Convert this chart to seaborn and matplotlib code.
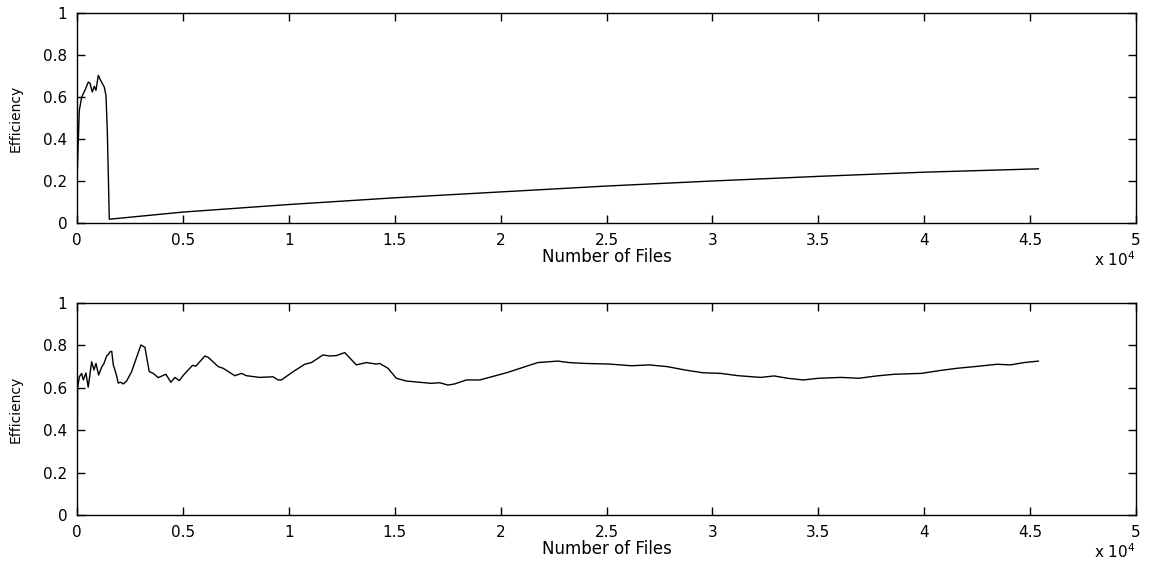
import numpy as np
import pandas as pd
import matplotlib
matplotlib.use("Agg")
import matplotlib.pyplot as plt
import seaborn as sns
from matplotlib.ticker import FuncFormatter

# top panel: efficiency vs number of files (first run)
files_top = [0, 108, 222, 377, 533, 613, 723, 817, 896, 1006, 1116, 1289, 1368, 1431, 1525,
             5000, 10000, 15000, 20000, 25000, 30000, 35000, 40000, 45400]
eff_top = [0.20, 0.536, 0.60, 0.632, 0.671, 0.666, 0.624, 0.651, 0.632, 0.703, 0.679, 0.647,
           0.608, 0.44, 0.018, 0.052, 0.088, 0.12, 0.148, 0.176, 0.20, 0.222, 0.242, 0.258]

# bottom panel: efficiency vs number of files (second run)
files_bot = [0, 30, 110, 220, 300, 420, 530, 692, 802, 896, 1022, 1163, 1274, 1399, 1494, 1557,
             1640, 1714, 1840, 1950, 2030, 2106, 2185, 2342, 2578, 3018, 3207, 3411, 3600, 3836,
             4197, 4433, 4622, 4826, 5046, 5455, 5612, 6036, 6193, 6665, 6900, 7451, 7766, 8001,
             8630, 9259, 9495, 9652, 10202, 10753, 11067, 11617, 11931, 12246, 12639, 13189,
             13661, 14133, 14290, 14683, 15075, 15547, 16176, 16726, 17123, 17512, 17827, 18386,
             19018, 20281, 21755, 22703, 23229, 23966, 25124, 26177, 27019, 27861, 28704, 29546,
             30388, 31230, 32283, 32915, 33547, 34284, 35021, 36073, 36916, 37758, 38600, 39864,
             40706, 41548, 42391, 43444, 44075, 44707, 45400]
eff_bot = [0.17, 0.60, 0.652, 0.668, 0.637, 0.67, 0.603, 0.723, 0.684, 0.715, 0.660, 0.697,
           0.715, 0.750, 0.759, 0.770, 0.772, 0.708, 0.668, 0.622, 0.626, 0.624, 0.618, 0.632,
           0.676, 0.802, 0.791, 0.676, 0.668, 0.648, 0.664, 0.626, 0.649, 0.634, 0.662, 0.706,
           0.702, 0.750, 0.744, 0.700, 0.692, 0.657, 0.668, 0.657, 0.649, 0.652, 0.637, 0.637,
           0.676, 0.711, 0.719, 0.755, 0.750, 0.752, 0.766, 0.708, 0.719, 0.712, 0.715, 0.692,
           0.645, 0.632, 0.626, 0.621, 0.624, 0.613, 0.618, 0.637, 0.637, 0.671, 0.719, 0.726,
           0.719, 0.715, 0.712, 0.704, 0.708, 0.700, 0.684, 0.671, 0.668, 0.657, 0.649, 0.656,
           0.645, 0.637, 0.645, 0.649, 0.645, 0.656, 0.664, 0.668, 0.681, 0.692, 0.700, 0.711,
           0.708, 0.719, 0.726]

xticks = np.arange(0, 50001, 5000)
yticks = [0, 0.2, 0.4, 0.6, 0.8, 1]

sns.set_style("ticks")
plt.rcParams["font.family"] = ["DejaVu Sans"]
plt.rcParams["text.color"] = "black"
plt.rcParams["axes.labelcolor"] = "black"

fig = plt.figure(figsize=(11.51, 5.61), dpi=100)
ax1 = fig.add_axes([77 / 1151, 1 - 223 / 561, 1059 / 1151, 210 / 561])
ax2 = fig.add_axes([77 / 1151, 1 - 515 / 561, 1059 / 1151, 212 / 561])

panels = [(ax1, files_top, eff_top), (ax2, files_bot, eff_bot)]
for ax, xs, ys in panels:
    df = pd.DataFrame({"files": xs, "eff": ys})
    sns.lineplot(data=df, x="files", y="eff", ax=ax, color="black", linewidth=1.0,
                 sort=False, estimator=None)
    ax.set_xlim(0, 50000)
    ax.set_ylim(0, 1)
    ax.set_xticks(xticks)
    ax.set_yticks(yticks)
    ax.xaxis.set_major_formatter(FuncFormatter(lambda v, p: "%g" % (v / 1e4)))
    ax.yaxis.set_major_formatter(FuncFormatter(lambda v, p: "%g" % v))
    ax.tick_params(direction="in", length=6, width=1, top=True, right=True,
                   labelsize=11, colors="black", labelcolor="black", pad=7)
    for s in ax.spines.values():
        s.set_visible(True)
        s.set_color("black")
        s.set_linewidth(1.0)
    ax.set_xlabel("Number of Files", fontsize=12, color="black")
    ax.set_ylabel("Efficiency", fontsize=10, color="black")
    ax.xaxis.set_label_coords(0.5, -25 / ax.bbox.height)
    ax.yaxis.set_label_coords(-54 / 1059, 0.5)
    ax.text(1.0, -37 / 212, r"x 10$^4$", transform=ax.transAxes, ha="right", va="center",
            fontsize=11, color="black")

fig.savefig("out.png", dpi=100, facecolor="white")
